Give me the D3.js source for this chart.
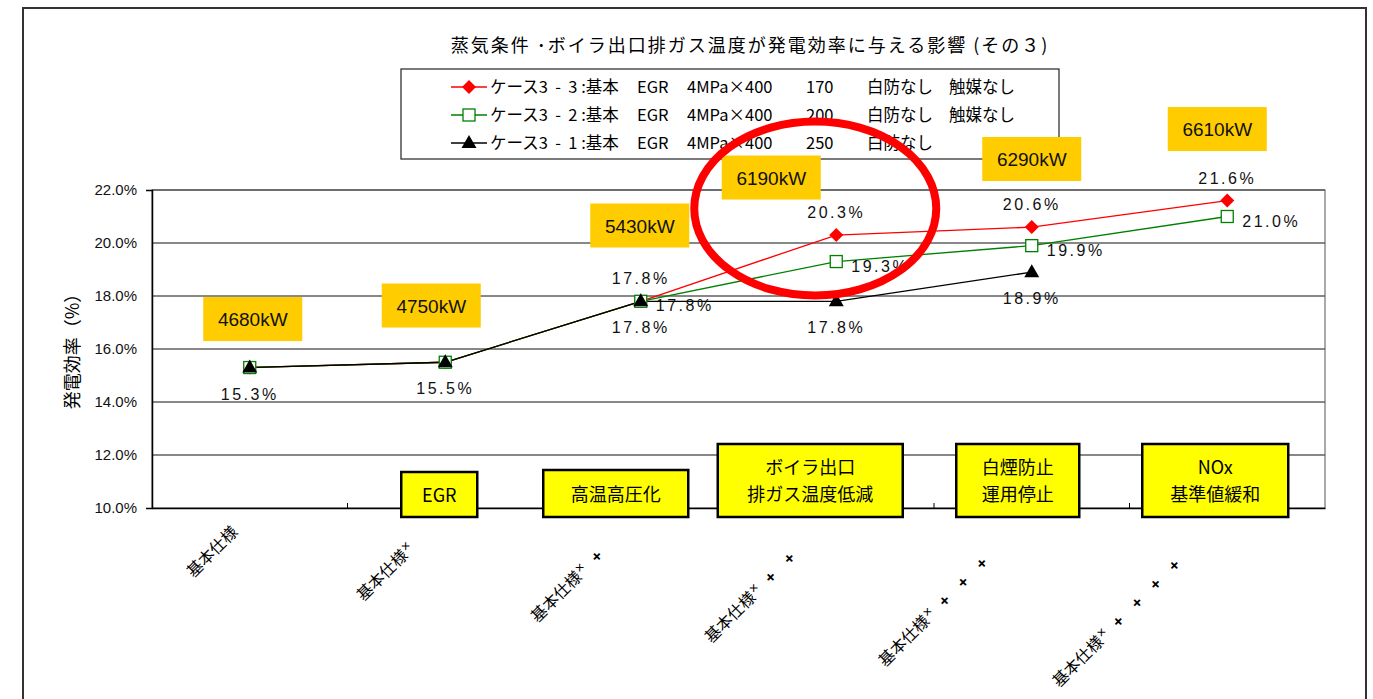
<!DOCTYPE html>
<html lang='ja'>
  <head>
    <meta charset='utf-8'>
    <style>
      body { margin: 0; background: #fff; }
      svg { display: block; }
      .jp { font-family: 'Noto Sans CJK JP', 'Noto Sans', sans-serif; }
      .num { font-family: 'Liberation Sans', Arial, sans-serif; }
    </style>
  </head>
  <body>
    <div id='chart'></div>

    <script src='https://cdn.jsdelivr.net/npm/d3@7/dist/d3.min.js'></script>
    <script>
      // categories (x axis)
      var categories = ['基本仕様', '基本仕様', '基本仕様', '基本仕様', '基本仕様', '基本仕様'];
      var plusCounts = [0, 1, 2, 3, 4, 5];

      // series values (%)
      var case33 = [15.3, 15.5, 17.8, 20.3, 20.6, 21.6];
      var case32 = [15.3, 15.5, 17.8, 19.3, 19.9, 21.0];
      var case31 = [15.3, 15.5, 17.8, 17.8, 18.9, null];

      var seriesNames = ['ケース3  -  3 :基本', 'ケース3  -  2 :基本', 'ケース3  -  1 :基本'];
      var seriesTemps = ['170', '200', '250'];
      var seriesCatalyst = ['触媒なし', '触媒なし', ''];

      var yTicks = [10, 12, 14, 16, 18, 20, 22];

      // output per step (kW)
      var outputs = [4680, 4750, 5430, 6190, 6290, 6610];

      // step boxes
      var stepLabels = [null, ['EGR'], ['高温高圧化'], ['ボイラ出口', '排ガス温度低減'], ['白煙防止', '運用停止'], ['NOx', '基準値緩和']];

      var width = 1373, height = 699;
      var margin = {left: 152, right: 48, top: 190, bottom: 191};

      var svg = d3.select('#chart').append('svg')
          .attr('width', width)
          .attr('height', height);

      // outer frame
      svg.append('rect')
          .attr('x', 23).attr('y', 8)
          .attr('width', 1343).attr('height', 710)
          .attr('fill', 'none').attr('stroke', '#333').attr('stroke-width', 2);

      var x = d3.scaleBand().domain(d3.range(categories.length))
          .range([margin.left, width - margin.right]);
      var y = d3.scaleLinear().domain([10, 22]).range([height - margin.bottom, margin.top]);
      var cx = function (i) { return x(i) + x.bandwidth() / 2; };

      // title
      svg.append('text').attr('class', 'jp')
          .attr('x', 750).attr('y', 52)
          .attr('text-anchor', 'middle')
          .style('font-size', '18px')
          .style('letter-spacing', '2px')
          .text('蒸気条件 ･ボイラ出口排ガス温度が発電効率に与える影響 (その３)');

      // grid + y axis
      svg.append('g').selectAll('line')
          .data(yTicks.slice(1))
        .enter().append('line')
          .attr('x1', margin.left).attr('x2', width - margin.right)
          .attr('y1', function (d) { return y(d); })
          .attr('y2', function (d) { return y(d); })
          .attr('stroke', '#111').attr('stroke-width', 1);

      svg.append('rect')
          .attr('x', margin.left).attr('y', y(22))
          .attr('width', width - margin.right - margin.left)
          .attr('height', y(10) - y(22))
          .attr('fill', 'none').attr('stroke', '#555').attr('stroke-width', 1);

      var yAxis = d3.axisLeft(y).tickValues(yTicks).tickSize(6)
          .tickFormat(function (d) { return d.toFixed(1) + '%'; });
      var ga = svg.append('g')
          .attr('transform', 'translate(' + margin.left + ',0)')
          .call(yAxis);
      ga.select('.domain').attr('stroke', '#000').attr('stroke-width', 1.5);
      ga.selectAll('.tick line').remove();
      ga.selectAll('.tick text')
          .attr('class', 'num')
          .attr('x', -15)
          .style('font-size', '15px')
          .attr('fill', '#111');

      // bottom axis
      var xAxis = d3.axisBottom(x).tickSize(0).tickFormat('');
      var gx = svg.append('g')
          .attr('transform', 'translate(0,' + y(10) + ')')
          .call(xAxis);
      gx.select('.domain').attr('stroke', '#000').attr('stroke-width', 1.5);
      svg.append('g').selectAll('line')
          .data(d3.range(1, categories.length))
        .enter().append('line')
          .attr('x1', function (i) { return x(i); })
          .attr('x2', function (i) { return x(i); })
          .attr('y1', y(10)).attr('y2', y(10) - 5)
          .attr('stroke', '#000');

      svg.append('text').attr('class', 'jp')
          .attr('transform', 'translate(79,' + (y(16) - 2) + ') rotate(-90)')
          .attr('text-anchor', 'middle')
          .style('font-size', '18px')
          .text('発電効率（%）');

      // x category labels, rotated
      var labelShift = [[-11, 533], [-30, 550], [-37, 557], [-40, 559], [-43, 564], [-46, 566]];
      categories.forEach(function (c, i) {
        var t = svg.append('text').attr('class', 'jp')
            .attr('transform', 'translate(' + (cx(i) + labelShift[i][0]) + ',' + labelShift[i][1] + ') rotate(-45)')
            .attr('text-anchor', 'end')
            .style('font-size', '16px');
        t.append('tspan').text(c);
        for (var k = 0; k < plusCounts[i]; k++) {
          if (k === 0) {
            t.append('tspan').attr('class', 'num').attr('dx', 1).attr('dy', -5)
                .style('font-size', '14px').text('×');
          } else {
            t.append('tspan').attr('class', 'num').attr('dx', k === 1 ? 11 : 17).attr('dy', k === 1 ? 5 : 0)
                .style('font-size', '16px').style('font-weight', 'bold').text('+');
          }
        }
      });

      // step boxes
      var stepPos = [null, {dx: -6, w: 76, top: 472}, {dx: -25, w: 145, top: 470},
        {dx: -26, w: 185, top: 444}, {dx: -14, w: 123, top: 444}, {dx: -12, w: 146, top: 444}];
      stepLabels.forEach(function (lines, i) {
        if (!lines) return;
        var p = stepPos[i];
        var g = svg.append('g');
        g.append('rect')
            .attr('x', cx(i) + p.dx - p.w / 2).attr('y', p.top)
            .attr('width', p.w).attr('height', 517 - p.top)
            .attr('fill', '#ffff00').attr('stroke', '#000').attr('stroke-width', 2.5);
        var mid = (p.top + 517) / 2;
        lines.forEach(function (s, k) {
          g.append('text').attr('class', 'jp')
              .attr('x', cx(i) + p.dx)
              .attr('y', mid + 7 + (k - (lines.length - 1) / 2) * 27)
              .attr('text-anchor', 'middle')
              .style('font-size', '18px')
              .text(s);
        });
      });

      // series
      var series = [
        {values: case33, color: '#ff0000', marker: 'diamond', labels: [2, 3, 4, 5], pos: 'above'},
        {values: case32, color: '#008000', marker: 'square', labels: [2, 3, 4, 5], pos: 'right'},
        {values: case31, color: '#000000', marker: 'triangle', labels: [0, 1, 2, 3, 4], pos: 'below'}
      ];

      var line = d3.line()
          .defined(function (d) { return d != null; })
          .x(function (d, i) { return cx(i); })
          .y(function (d) { return y(d); });

      series.forEach(function (s) {
        svg.append('path')
            .datum(s.values)
            .attr('d', line)
            .attr('fill', 'none')
            .attr('stroke', s.color)
            .attr('stroke-width', 1.3);
      });

      function drawMarker(g, type, color, px, py) {
        if (type === 'diamond') {
          g.append('path')
              .attr('d', 'M' + px + ',' + (py - 7) + 'L' + (px + 7) + ',' + py + 'L' + px + ',' + (py + 7) + 'L' + (px - 7) + ',' + py + 'Z')
              .attr('fill', color);
        } else if (type === 'square') {
          g.append('rect')
              .attr('x', px - 6).attr('y', py - 6)
              .attr('width', 12).attr('height', 12)
              .attr('fill', '#fff').attr('stroke', color).attr('stroke-width', 1.3);
        } else {
          g.append('path')
              .attr('d', 'M' + px + ',' + (py - 8) + 'L' + (px + 7.5) + ',' + (py + 5) + 'L' + (px - 7.5) + ',' + (py + 5) + 'Z')
              .attr('fill', color);
        }
      }

      series.forEach(function (s) {
        var g = svg.append('g');
        s.values.forEach(function (v, i) {
          if (v == null) return;
          drawMarker(g, s.marker, s.color, cx(i), y(v));
        });
      });

      // data labels
      series.forEach(function (s) {
        s.labels.forEach(function (i) {
          var v = s.values[i];
          var t = svg.append('text').attr('class', 'num')
              .style('font-size', '16px')
              .style('letter-spacing', '2.5px')
              .attr('fill', '#111')
              .text(v.toFixed(1) + '%');
          if (s.pos === 'above') {
            t.attr('x', cx(i)).attr('y', y(v) - 17).attr('text-anchor', 'middle');
          } else if (s.pos === 'right') {
            t.attr('x', cx(i) + 15).attr('y', y(v) + 10).attr('text-anchor', 'start');
          } else {
            t.attr('x', cx(i)).attr('y', y(v) + 32).attr('text-anchor', 'middle');
          }
        });
      });

      // legend
      var lg = svg.append('g');
      lg.append('rect')
          .attr('x', 401).attr('y', 69)
          .attr('width', 658).attr('height', 90)
          .attr('fill', '#fff').attr('stroke', '#333').attr('stroke-width', 1.3);
      series.forEach(function (s, k) {
        var ry = 87 + k * 28;
        lg.append('line')
            .attr('x1', 451).attr('x2', 487)
            .attr('y1', ry).attr('y2', ry)
            .attr('stroke', s.color).attr('stroke-width', 1.3);
        drawMarker(lg, s.marker, s.color, 469, ry);
        var cols = [[490, seriesNames[k]], [637, 'EGR'], [687, '4MPa×400'], [806, seriesTemps[k]],
          [867, '白防なし'], [949, seriesCatalyst[k]]];
        cols.forEach(function (c) {
          lg.append('text').attr('class', 'jp')
              .attr('x', c[0]).attr('y', ry + 6)
              .style('font-size', '16.5px')
              .style('white-space', 'pre')
              .text(c[1]);
        });
      });

      // output kW boxes
      var outPos = [{dx: 3, v: 17.13}, {dx: -14, v: 17.64}, {dx: -1, v: 20.66},
        {dx: -65, v: 22.47}, {dx: 0, v: 23.17}, {dx: -10, v: 24.3}];
      outputs.forEach(function (kw, i) {
        var px = cx(i) + outPos[i].dx, py = y(outPos[i].v);
        svg.append('rect')
            .attr('x', px - 49.5).attr('y', py - 22)
            .attr('width', 99).attr('height', 44)
            .attr('fill', '#ffcc00');
        svg.append('text').attr('class', 'num')
            .attr('x', px).attr('y', py + 7)
            .attr('text-anchor', 'middle')
            .style('font-size', '19px')
            .attr('fill', '#111')
            .text(kw + 'kW');
      });

      // highlight ellipse
      svg.append('ellipse')
          .attr('cx', cx(3) - 21).attr('cy', y(21.3))
          .attr('rx', 121).attr('ry', 87)
          .attr('fill', 'none')
          .attr('stroke', '#ff0000')
          .attr('stroke-width', 8);
    </script>
  </body>
</html>
